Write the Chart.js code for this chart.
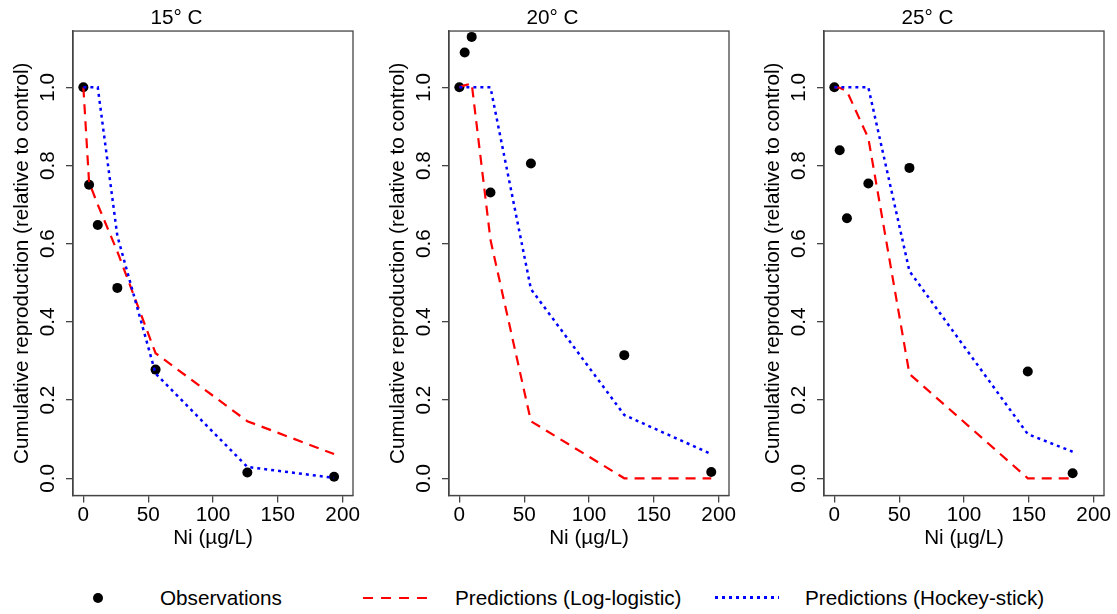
<!DOCTYPE html>
<html>
<head>
<meta charset="utf-8">
<script src="https://cdn.jsdelivr.net/npm/chart.js@4/dist/chart.umd.min.js"></script>
<style>
  html, body { margin: 0; padding: 0; background: #fff; }
  #wrap { position: relative; width: 1117px; height: 614px; overflow: hidden; font-family: "Liberation Sans", Arial, sans-serif; }
  .panel { position: absolute; top: 0; }
  .leg { position: absolute; font-size: 20.7px; line-height: 24px; top: 586px; color: #000; white-space: nowrap; }
  .dot { position: absolute; left: 93px; top: 593px; width: 10px; height: 10px; border-radius: 50%; background: #000; }
  .dash { position: absolute; top: 597px; height: 2px; width: 64px; }
</style>
</head>
<body>
<div id="wrap">
  <canvas id="c15" class="panel" width="366" height="560" style="left:0px"></canvas>
  <canvas id="c20" class="panel" width="366" height="560" style="left:376px"></canvas>
  <canvas id="c25" class="panel" width="366" height="560" style="left:751px"></canvas>

  <div class="dot"></div>
  <div class="leg" style="left:160px">Observations</div>
  <div class="dash" style="left:363px; background: repeating-linear-gradient(90deg, #ff0000 0 10px, transparent 10px 18px);"></div>
  <div class="leg" style="left:455px">Predictions (Log-logistic)</div>
  <div class="dash" style="left:715px; height:3px; top:596px; background: repeating-linear-gradient(90deg, #0000ff 0 3px, transparent 3px 7px);"></div>
  <div class="leg" style="left:805px">Predictions (Hockey-stick)</div>
</div>
<script>
// Ni exposure, cumulative reproduction relative to control
const panelTitles = ['15° C', '20° C', '25° C'];

const conc15 = [0, 4.4, 11.1, 26.2, 55.7, 126.5, 193.4];
const obs15 = [1.0, 0.751, 0.648, 0.487, 0.278, 0.015, 0.004];
const loglog15 = [1.0, 0.757, 0.70, 0.58, 0.32, 0.146, 0.062];
const hockey15 = [1.0, 1.0, 1.0, 0.62, 0.268, 0.029, 0.001];

const conc20 = [0, 4.1, 9.5, 24.0, 55.2, 127.2, 194.3];
const obs20 = [1.0, 1.089, 1.129, 0.731, 0.805, 0.315, 0.016];
const loglog20 = [1.0, 1.005, 1.01, 0.61, 0.146, 0.0, 0.0];
const hockey20 = [1.0, 1.0, 1.0, 1.0, 0.484, 0.162, 0.062];

const conc25 = [0, 4.1, 9.7, 26.2, 57.9, 149.2, 183.8];
const obs25 = [1.0, 0.839, 0.665, 0.754, 0.794, 0.273, 0.013];
const loglog25 = [1.0, 0.999, 0.99, 0.87, 0.267, 0.0, 0.0];
const hockey25 = [1.0, 1.0, 1.0, 1.0, 0.53, 0.113, 0.068];

const xTicks = [0, 50, 100, 150, 200];
const yTicks = [0, 0.2, 0.4, 0.6, 0.8, 1.0];

(function() {
    Chart.defaults.font.family = '"Liberation Sans", Arial, Helvetica, sans-serif';
    Chart.defaults.font.size = 20.7;
    Chart.defaults.color = '#000';

    const axisColor = '#444';

    const boxPlugin = {
        id: 'box',
        afterDraw(chart) {
            const a = chart.chartArea;
            const ctx = chart.ctx;
            ctx.save();
            ctx.strokeStyle = axisColor;
            ctx.lineWidth = 1.3;
            ctx.strokeRect(a.left, a.top, a.right - a.left, a.bottom - a.top);
            ctx.restore();
        }
    };

    function pts(xs, ys) { return xs.map((x, i) => ({ x: x, y: ys[i] })); }

    function makePanel(id, title, conc, obs, ll, hs) {
        const ctx = document.getElementById(id).getContext('2d');
        return new Chart(ctx, {
            type: 'scatter',
            data: {
                datasets: [
                    { label: 'Predictions (Hockey-stick)', data: pts(conc, hs), showLine: true, borderColor: '#0000ff', borderWidth: 2.5, borderDash: [3, 4], pointRadius: 0, fill: false },
                    { label: 'Predictions (Log-logistic)', data: pts(conc, ll), showLine: true, borderColor: '#ff0000', borderWidth: 2.2, borderDash: [10, 7], pointRadius: 0, fill: false },
                    { label: 'Observations', data: pts(conc, obs), showLine: false, pointRadius: 5, pointBackgroundColor: '#000', pointBorderColor: '#000', pointBorderWidth: 0 }
                ]
            },
            options: {
                responsive: false,
                animation: false,
                devicePixelRatio: 1,
                layout: { padding: { left: 0, right: 13, top: 0, bottom: 0 } },
                plugins: {
                    legend: { display: false },
                    tooltip: { enabled: false },
                    title: { display: true, text: title, font: { size: 20.7, weight: 'normal' }, color: '#000', padding: { top: 6, bottom: 0.2 } }
                },
                scales: {
                    x: {
                        type: 'linear', min: -8, max: 208,
                        afterBuildTicks: s => { s.ticks = xTicks.map(v => ({ value: v })); },
                        afterFit: s => { s.height = 64.5; s.paddingLeft = 0; s.paddingRight = 0; },
                        ticks: { maxRotation: 0, minRotation: 0, padding: 0, callback: v => String(v), autoSkip: false },
                        grid: { display: true, drawOnChartArea: false, drawTicks: true, tickLength: 7, color: axisColor, lineWidth: 1.3 },
                        border: { display: true, color: axisColor, width: 1.3 },
                        title: { display: true, text: 'Ni (\u00b5g/L)', font: { size: 20.7 }, padding: { top: 0, bottom: 9 } }
                    },
                    y: {
                        type: 'linear', min: -0.044, max: 1.144,
                        afterBuildTicks: s => { s.ticks = yTicks.map(v => ({ value: v })); },
                        afterFit: s => { s.width = 73; s.paddingTop = 0; s.paddingBottom = 0; },
                        ticks: { minRotation: 90, maxRotation: 90, crossAlign: 'center', padding: 3, callback: v => v.toFixed(1), autoSkip: false },
                        grid: { display: true, drawOnChartArea: false, drawTicks: true, tickLength: 7, color: axisColor, lineWidth: 1.3 },
                        border: { display: true, color: axisColor, width: 1.3 },
                        title: { display: true, text: 'Cumulative reproduction (relative to control)', font: { size: 20.7 }, padding: { top: 10, bottom: 0 } }
                    }
                }
            },
            plugins: [boxPlugin]
        });
    }

    makePanel('c15', panelTitles[0], conc15, obs15, loglog15, hockey15);
    makePanel('c20', panelTitles[1], conc20, obs20, loglog20, hockey20);
    makePanel('c25', panelTitles[2], conc25, obs25, loglog25, hockey25);
})();
</script>
</body>
</html>
